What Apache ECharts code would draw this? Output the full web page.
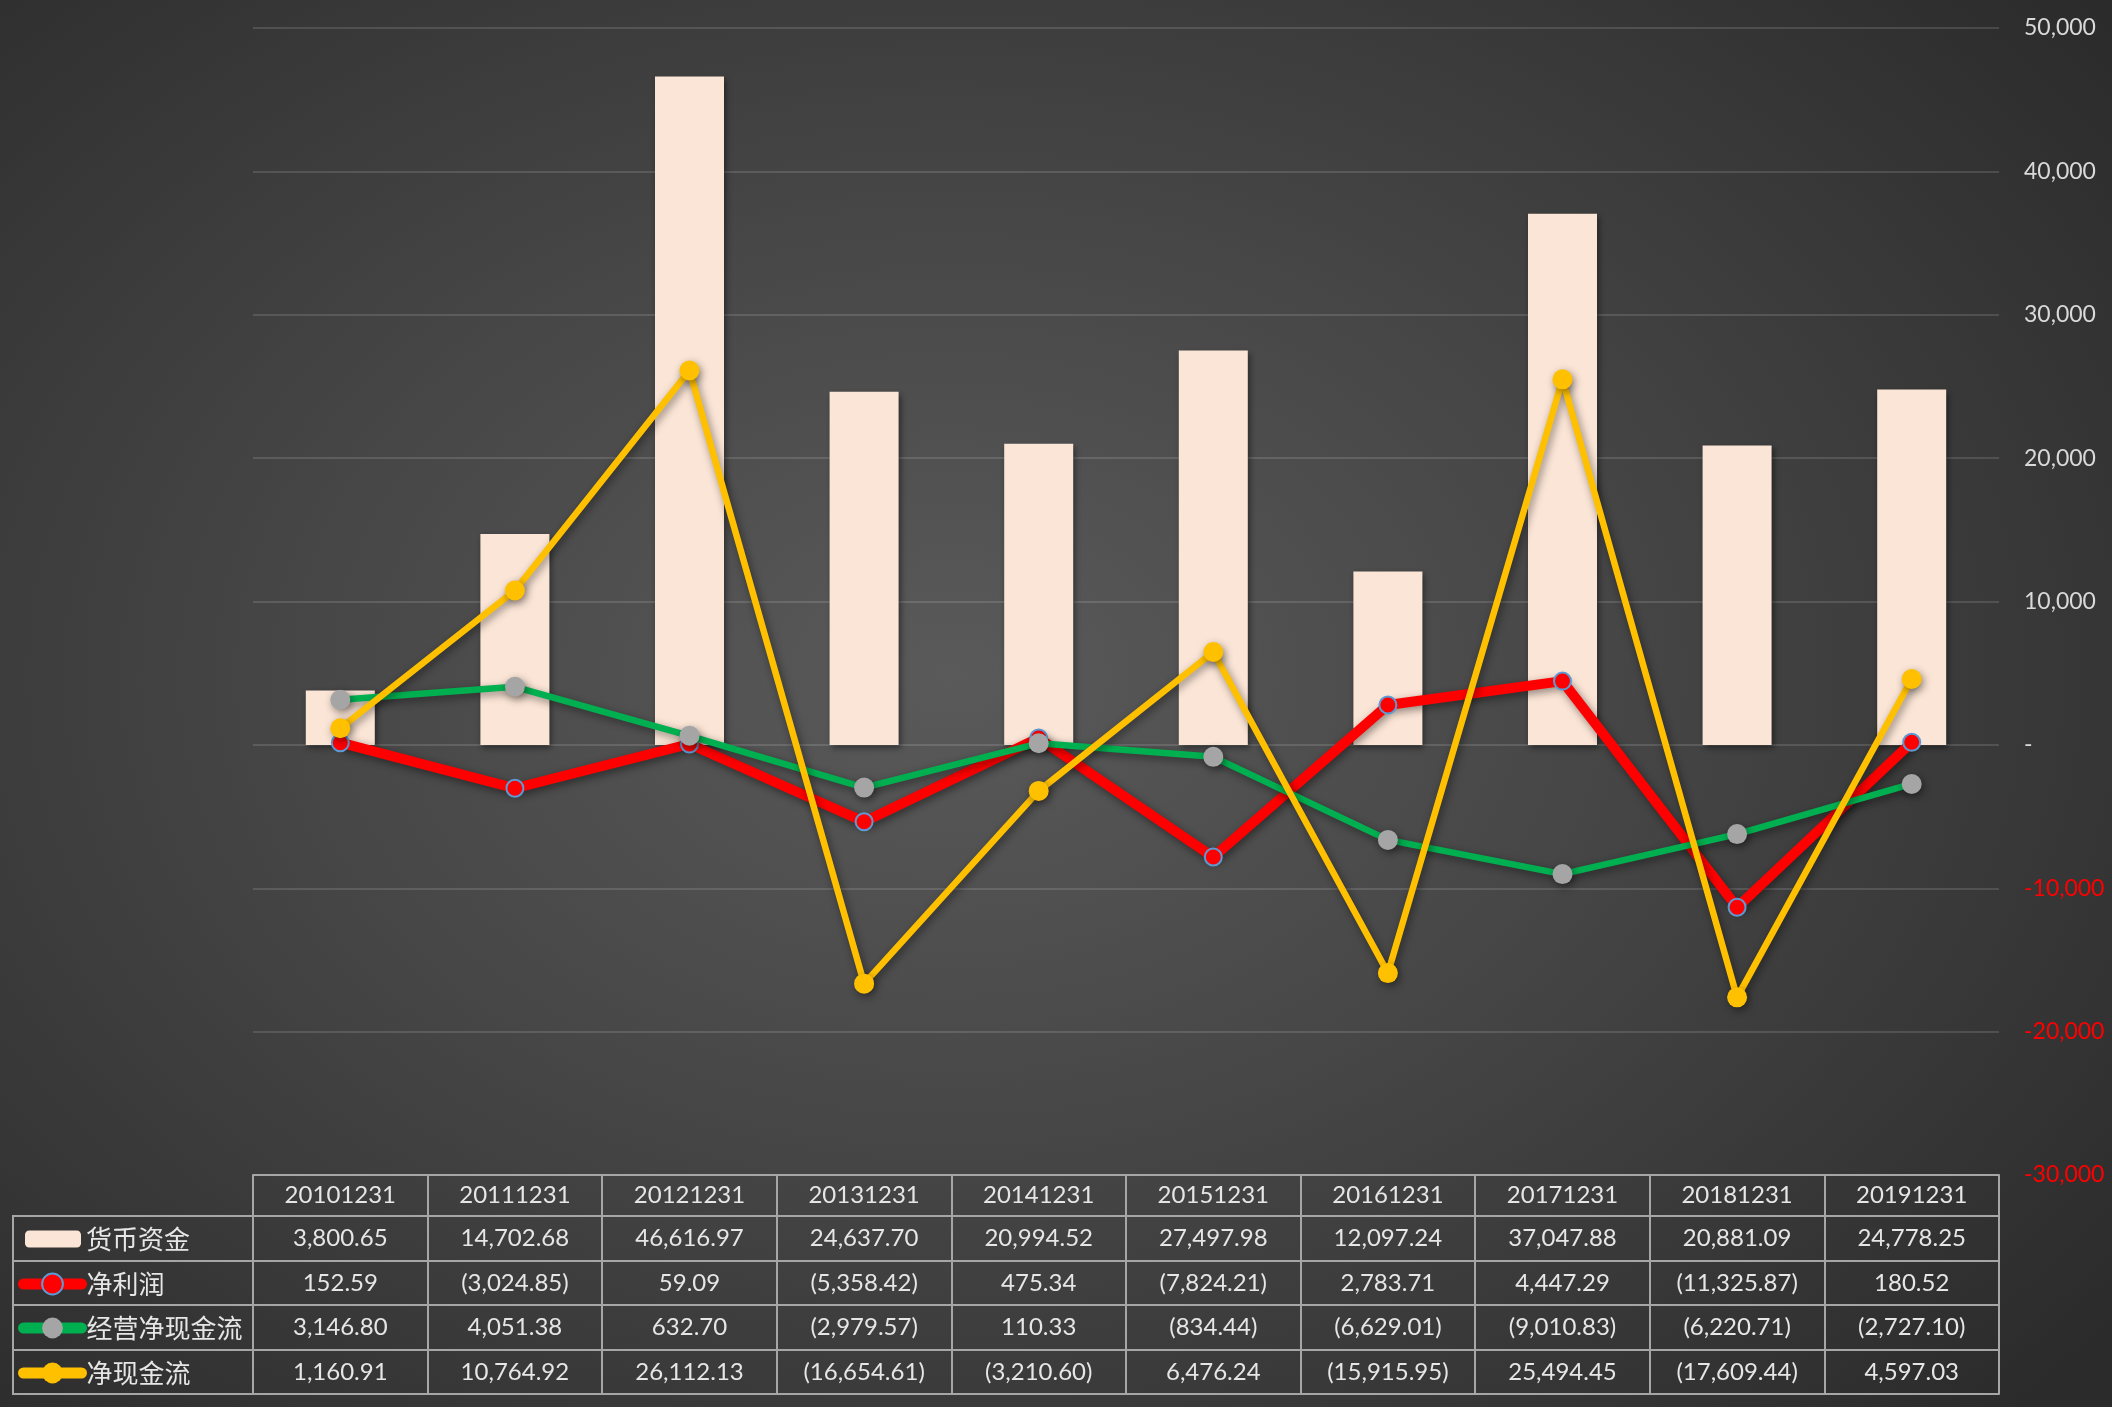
<!DOCTYPE html>
<html>
<head>
<meta charset="utf-8">
<title>货币资金与现金流</title>
<script src="https://cdn.jsdelivr.net/npm/echarts@6/dist/echarts.min.js"></script>
<style>
  html, body { margin: 0; padding: 0; }
  #chart {
    width: 2112px;
    height: 1407px;
    background: radial-gradient(ellipse 70% 75% at 45% 48%, #5a5a5a 0%, #464646 45%, #2b2b2b 100%);
  }
</style>
</head>
<body>
<div id="chart"></div>
<script>
// data
const categories = ['20101231', '20111231', '20121231', '20131231', '20141231',
  '20151231', '20161231', '20171231', '20181231', '20191231']
const cashFunds = [3800.65, 14702.68, 46616.97, 24637.70, 20994.52, 27497.98, 12097.24, 37047.88, 20881.09, 24778.25]
const netProfit = [152.59, -3024.85, 59.09, -5358.42, 475.34, -7824.21, 2783.71, 4447.29, -11325.87, 180.52]
const operatingCashFlow = [3146.80, 4051.38, 632.70, -2979.57, 110.33, -834.44, -6629.01, -9010.83, -6220.71, -2727.10]
const netCashFlow = [1160.91, 10764.92, 26112.13, -16654.61, -3210.60, 6476.24, -15915.95, 25494.45, -17609.44, 4597.03]
const seriesNames = ['货币资金', '净利润', '经营净现金流', '净现金流']
const yTicks = { min: -30000, max: 50000, interval: 10000 }

const font = 'Lato, "Noto Sans CJK SC", sans-serif'
const cjkFont = '"Noto Sans CJK SC", "Noto Sans", sans-serif'
const textColor = '#e6e6e6'
const tableLine = { color: '#a6a6a6', width: 2 }

// table geometry (pixels)
const tableTop = 1175
const rowOffsets = [0, 41, 86, 130, 175, 219]

const fmtCell = v => {
  const s = Math.abs(v).toLocaleString('en-US', { minimumFractionDigits: 2, maximumFractionDigits: 2 })
  return v < 0 ? '(' + s + ')' : s
}

const fmtAxis = v => {
  if (v === 0) return '-'
  const s = Math.abs(v).toLocaleString('en-US')
  return v < 0 ? '{neg|-' + s + '}' : s
}

const tableAxis = (i, labels) => {
  const height = i < rowOffsets.length - 1 ? rowOffsets[i + 1] - rowOffsets[i] : 0
  return {
    type: 'category',
    data: categories,
    position: 'bottom',
    offset: rowOffsets[i],
    axisLine: { show: true, onZero: false, lineStyle: tableLine },
    axisTick: { show: height > 0, length: height, interval: 0, lineStyle: tableLine },
    axisLabel: {
      show: !!labels,
      interval: 0,
      margin: height / 2,
      verticalAlign: 'middle',
      color: textColor,
      fontSize: 24,
      fontFamily: font,
      formatter: (v, idx) => labels ? labels[idx] : ''
    },
    splitLine: { show: false }
  }
}

const rowCenters = [1238, 1283, 1327, 1372]

const chart = echarts.init(document.getElementById('chart'), null, { renderer: 'canvas' })

const shadow = { shadowColor: 'rgba(0,0,0,0.45)', shadowBlur: 8, shadowOffsetX: 2, shadowOffsetY: 3 }
const legendText = { color: textColor, fontSize: 26, fontFamily: cjkFont, lineHeight: 28 }

const option = {
  animation: false,
  backgroundColor: 'transparent',
  grid: {
    left: 253,
    right: 113,
    top: 28,
    bottom: 1407 - tableTop,
    containLabel: false,
    outerBoundsMode: 'none'
  },
  legend: seriesNames.map((name, i) => i === 0
    ? {
        data: [name], left: 25, top: rowCenters[i] - 13, padding: 0,
        itemWidth: 56, itemHeight: 17, itemGap: 6,
        textStyle: legendText
      }
    : {
        data: [name], left: 18, top: rowCenters[i] - 13, padding: 0,
        itemWidth: 58, itemHeight: 26, itemGap: 4,
        lineStyle: { width: 11, cap: 'round' },
        textStyle: legendText
      }),
  xAxis: [
    tableAxis(0, categories),
    tableAxis(1, cashFunds.map(fmtCell)),
    tableAxis(2, netProfit.map(fmtCell)),
    tableAxis(3, operatingCashFlow.map(fmtCell)),
    tableAxis(4, netCashFlow.map(fmtCell)),
    tableAxis(5, null)
  ],
  yAxis: {
    type: 'value',
    position: 'right',
    min: yTicks.min,
    max: yTicks.max,
    interval: yTicks.interval,
    axisLine: { show: false },
    axisTick: { show: false },
    axisLabel: {
      margin: 25,
      color: '#d9d9d9',
      fontSize: 23,
      fontFamily: font,
      verticalAlign: 'middle',
      formatter: fmtAxis,
      rich: { neg: { color: '#ff0000', fontSize: 23, fontFamily: font } }
    },
    splitLine: { lineStyle: { color: 'rgba(255,255,255,0.13)', width: 2 } }
  },
  graphic: [
    { type: 'rect', shape: { x: 13, y: 1216, width: 240, height: 178 }, style: { fill: 'none', stroke: tableLine.color, lineWidth: 2 } },
    { type: 'line', shape: { x1: 13, y1: 1261, x2: 253, y2: 1261 }, style: { stroke: tableLine.color, lineWidth: 2 } },
    { type: 'line', shape: { x1: 13, y1: 1305, x2: 253, y2: 1305 }, style: { stroke: tableLine.color, lineWidth: 2 } },
    { type: 'line', shape: { x1: 13, y1: 1350, x2: 253, y2: 1350 }, style: { stroke: tableLine.color, lineWidth: 2 } }
  ],
  series: [
    {
      name: seriesNames[0],
      type: 'bar',
      data: cashFunds,
      barWidth: 69,
      itemStyle: { color: '#fbe5d6', ...shadow, shadowBlur: 6 }
    },
    {
      name: seriesNames[1],
      type: 'line',
      data: netProfit,
      symbol: 'circle',
      symbolSize: 17,
      lineStyle: { color: '#ff0000', width: 10, ...shadow },
      itemStyle: { color: '#ff0000', borderColor: '#5b9bd5', borderWidth: 2 },
      z: 3
    },
    {
      name: seriesNames[2],
      type: 'line',
      data: operatingCashFlow,
      symbol: 'circle',
      symbolSize: 20,
      lineStyle: { color: '#00b050', width: 6.5, ...shadow },
      itemStyle: { color: '#a5a5a5', ...shadow },
      z: 4
    },
    {
      name: seriesNames[3],
      type: 'line',
      data: netCashFlow,
      symbol: 'circle',
      symbolSize: 20,
      lineStyle: { color: '#ffc000', width: 6.5, ...shadow },
      itemStyle: { color: '#ffc000', ...shadow },
      z: 5
    }
  ]
}

chart.setOption(option)

window.addEventListener('resize', () => {
  chart.resize()
})
</script>
</body>
</html>
